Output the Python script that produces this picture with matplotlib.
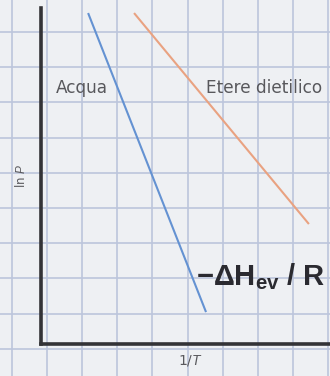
import numpy as np
import matplotlib
matplotlib.use("Agg")
import matplotlib.pyplot as plt

plt.rcParams['mathtext.fontset'] = 'custom'
plt.rcParams['mathtext.rm'] = 'Liberation Sans'
plt.rcParams['mathtext.it'] = 'Liberation Sans:italic'
plt.rcParams['mathtext.bf'] = 'Liberation Sans:bold'

# Data (arbitrary units)
inv_T_acqua = [0.163, 0.571]
lnP_acqua = [0.985, 0.095]
inv_T_etere = [0.322, 0.927]
lnP_etere = [0.985, 0.357]
series_labels = ["Acqua", "Etere dietilico"]
x_label = "1/$T$"
y_label = "ln $P$"
slope_label = r"$\mathbf{-\Delta H_{ev}\ /\ R}$"

W, H = 330, 376
fig = plt.figure(figsize=(W / 100, H / 100), dpi=100)
fig.patch.set_facecolor("#eef0f3")

# grid-paper background
bg = fig.add_axes([0, 0, 1, 1])
bg.set_xlim(0, W)
bg.set_ylim(H, 0)
bg.set_facecolor("#eef0f3")
bg.set_xticks(np.arange(12, W + 1, 35.1))
bg.set_yticks(np.arange(32, H + 1, 35.2))
bg.grid(True, color="#bcc5dc", linewidth=1.2)
bg.tick_params(length=0, labelbottom=False, labelleft=False)
for s in bg.spines.values():
    s.set_visible(False)

ax = fig.add_axes([41 / W, 32 / H, 289 / W, 336 / H])
ax.set_facecolor("none")
ax.set_xlim(0, 1)
ax.set_ylim(0, 1)
for side in ["top", "right"]:
    ax.spines[side].set_visible(False)
for side in ["left", "bottom"]:
    ax.spines[side].set_linewidth(2.6)
    ax.spines[side].set_color("#333336")
ax.set_xticks([])
ax.set_yticks([])

ax.plot(inv_T_acqua, lnP_acqua, color="#6492d2", linewidth=1.5, solid_capstyle="butt")
ax.plot(inv_T_etere, lnP_etere, color="#e9a281", linewidth=1.5, solid_capstyle="butt")

txt_color = "#58585c"
ax.text(0.142, 0.762, series_labels[0], ha="center", va="center",
        fontsize=12.2, color=txt_color, family="DejaVu Sans")
ax.text(0.772, 0.762, series_labels[1], ha="center", va="center",
        fontsize=12.2, color=txt_color, family="DejaVu Sans")
ax.text(0.536, 0.176, slope_label, ha="left", va="baseline",
        fontsize=21, color="#2a2a30", clip_on=False)

fig.text(21 / W, 1 - 176 / H, y_label, rotation=90, ha="center", va="center",
         fontsize=8.5, color=txt_color)
fig.text(190 / W, 1 - 361 / H, x_label, ha="center", va="center",
         fontsize=10, color=txt_color)

fig.savefig("out.png", dpi=100, facecolor=fig.get_facecolor())
